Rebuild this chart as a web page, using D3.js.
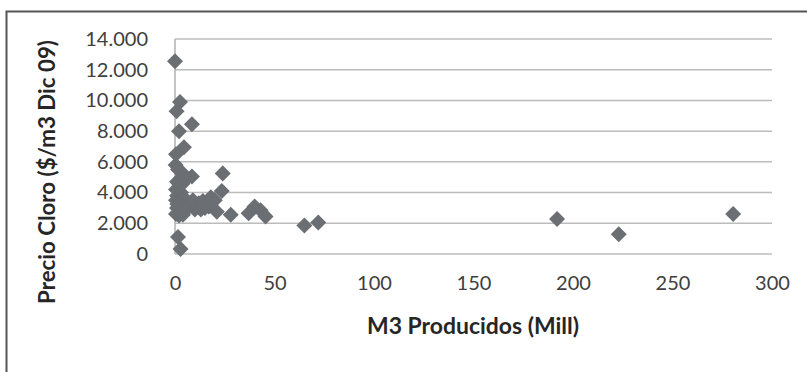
<!DOCTYPE html>
<html>
<head>
<meta charset="utf-8">
<script src="https://cdn.jsdelivr.net/npm/d3@7"></script>
<style>
  html, body { margin: 0; padding: 0; background: #fff; }
  svg { display: block; }
</style>
</head>
<body>
<svg id="chart" width="807" height="372"></svg>
<script>
// ---- Data ----
const xValues = [0, 2.5, 0.8, 8.5, 2, 4.5, 0.5, 0.3, 1.5, 3.5, 8.5, 24, 23.5, 1, 2, 0.5, 3, 1, 5, 0.5, 2, 7, 12, 15, 10, 1, 3, 2, 5, 17, 20, 21, 28, 37, 40, 43, 45.5, 65, 72, 192, 223, 280.5, 1.5, 2.8, 13, 6, 9, 4, 14, 18, 0.5, 3.5, 1.2, 4];
const yValues = [12550, 9900, 9300, 8450, 8000, 6950, 6500, 5800, 5500, 5300, 5050, 5250, 4100, 4700, 4400, 4200, 4000, 3800, 3600, 3500, 3300, 3200, 3300, 3000, 2900, 3000, 2700, 2500, 2800, 3100, 3500, 2750, 2550, 2650, 3100, 2850, 2450, 1850, 2050, 2280, 1280, 2600, 1100, 320, 2900, 4900, 3500, 3100, 3450, 3700, 2600, 4550, 3250, 2550];
const xTicks = [0, 50, 100, 150, 200, 250, 300];
const yTicks = [0, 2000, 4000, 6000, 8000, 10000, 12000, 14000];
const xTitle = "M3 Producidos (Mill)";
const yTitle = "Precio Cloro ($/m3 Dic 09)";

const points = xValues.map((x, i) => ({ x, y: yValues[i] }));

const svg = d3.select("#chart");
const pLeft = 175, pRight = 772, pTop = 39, pBottom = 254;

const x = d3.scaleLinear().domain([0, 300]).range([pLeft, pRight]);
const y = d3.scaleLinear().domain([0, 14000]).range([pBottom, pTop]);

const locale = d3.formatLocale({ decimal: ",", thousands: ".", grouping: [3], currency: ["$", ""] });
const FONT = "Lato, 'Open Sans', sans-serif";

// Outer frame (left & top edges visible)
svg.append("path")
  .attr("d", "M6.5,372 L6.5,11.5 L807,11.5")
  .attr("fill", "none")
  .attr("stroke", "#555")
  .attr("stroke-width", 2);

// Gridlines
svg.append("g")
  .selectAll("line")
  .data(yTicks)
  .join("line")
  .attr("x1", pLeft).attr("x2", pRight)
  .attr("y1", d => y(d)).attr("y2", d => y(d))
  .attr("stroke", "#bcbcbc")
  .attr("stroke-width", 1.5);

// Y axis line
svg.append("line")
  .attr("x1", pLeft).attr("x2", pLeft)
  .attr("y1", pTop).attr("y2", pBottom)
  .attr("stroke", "#b0b0b0")
  .attr("stroke-width", 1.5);

// Y axis labels
const yAxis = d3.axisLeft(y).tickValues(yTicks).tickSize(0).tickPadding(27)
  .tickFormat(d => locale.format(",")(d));
const gy = svg.append("g").attr("transform", `translate(${pLeft},0)`).call(yAxis);
gy.select(".domain").remove();
gy.selectAll("text")
  .attr("font-family", FONT)
  .attr("font-size", 20)
  .attr("fill", "#404040");

// X axis labels
const xAxis = d3.axisBottom(x).tickValues(xTicks).tickSize(0).tickPadding(22)
  .tickFormat(d => String(d));
const gx = svg.append("g").attr("transform", `translate(0,${pBottom})`).call(xAxis);
gx.select(".domain").remove();
gx.selectAll("text")
  .attr("font-family", FONT)
  .attr("font-size", 20)
  .attr("fill", "#404040");

// Diamonds
const diamond = d3.symbol().type(d3.symbolSquare).size(128);
svg.append("g")
  .selectAll("path")
  .data(points)
  .join("path")
  .attr("d", diamond)
  .attr("transform", d => `translate(${x(d.x)},${y(d.y)}) rotate(45)`)
  .attr("fill", "#6b6e73");

// Axis titles (font size fitted to the reference title lengths)
function fitText(sel, target) {
  const len = sel.node().getComputedTextLength();
  const fs = parseFloat(sel.attr("font-size"));
  sel.attr("font-size", (fs * target / len).toFixed(2));
}

const xt = svg.append("text")
  .attr("x", 473).attr("y", 334)
  .attr("text-anchor", "middle")
  .attr("font-family", FONT)
  .attr("font-weight", "bold")
  .attr("font-size", 18)
  .attr("fill", "#262626")
  .text(xTitle);
fitText(xt, 212);

const yt = svg.append("text")
  .attr("transform", "translate(55,172) rotate(-90)")
  .attr("text-anchor", "middle")
  .attr("font-family", FONT)
  .attr("font-weight", "bold")
  .attr("font-size", 19)
  .attr("fill", "#262626")
  .text(yTitle);
fitText(yt, 264);
</script>
</body>
</html>
